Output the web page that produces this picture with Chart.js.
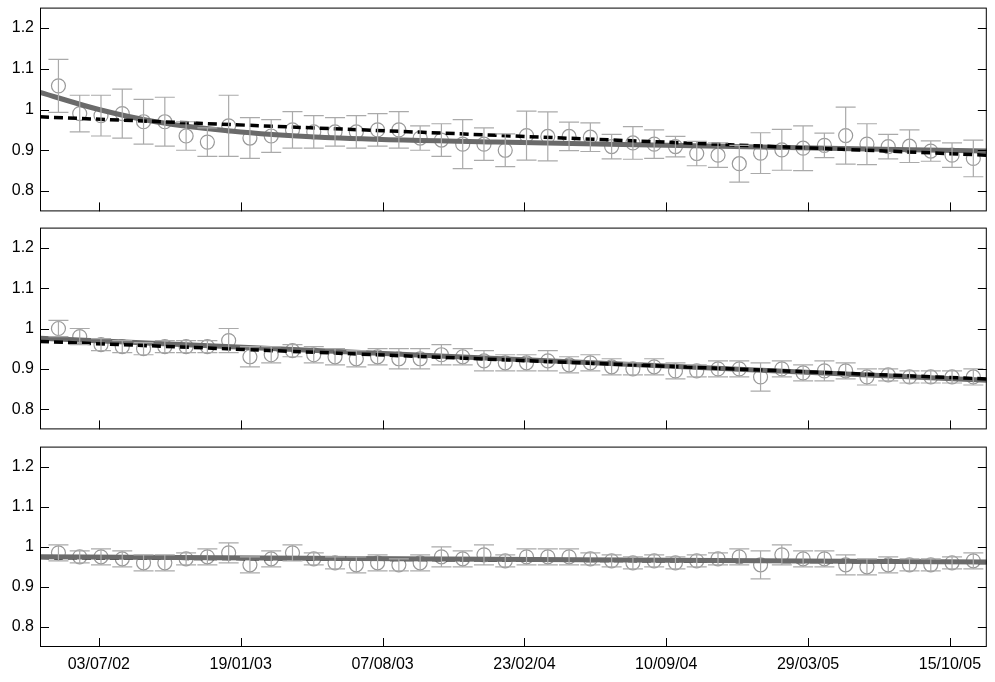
<!DOCTYPE html>
<html>
<head>
<meta charset="utf-8">
<script src="https://cdn.jsdelivr.net/npm/chart.js@4/dist/chart.umd.min.js"></script>
<style>
  body { margin: 0; background: #fff; overflow: hidden; }
  canvas { position: absolute; left: 0; }
</style>
</head>
<body>
<canvas id="p1" width="995" height="235" style="top:-8px"></canvas>
<canvas id="p2" width="995" height="233" style="top:212px"></canvas>
<canvas id="p3" width="995" height="251" style="top:431px"></canvas>
<script>
/* =========================
   DATA (x = days after 03/07/02)
========================= */
const baseDate = Date.UTC(2002, 6, 3);
const xTicks = [0, 200, 400, 600, 800, 1000, 1200];
const yTicks = [0.8, 0.9, 1.0, 1.1, 1.2];
const sampleDays = [-57, -27, 3, 33, 63, 93, 123, 153, 183, 213, 243, 273, 303, 333, 363, 393,
  423, 453, 483, 513, 543, 573, 603, 633, 663, 693, 723, 753, 783, 813, 843, 873, 903, 933,
  963, 993, 1023, 1053, 1083, 1113, 1143, 1173, 1203, 1233];

const top1 = [1.058, 0.99, 0.985, 0.99, 0.97, 0.97, 0.935, 0.92, 0.96, 0.93, 0.935, 0.95, 0.945,
  0.945, 0.945, 0.95, 0.95, 0.93, 0.925, 0.915, 0.915, 0.90, 0.936, 0.934, 0.934, 0.932, 0.909,
  0.918, 0.915, 0.909, 0.892, 0.888, 0.867, 0.893, 0.901, 0.905, 0.912, 0.936, 0.915, 0.909,
  0.91, 0.898, 0.888, 0.88];
const err1 = [0.065, 0.045, 0.05, 0.06, 0.055, 0.06, 0.035, 0.035, 0.075, 0.05, 0.04, 0.045, 0.04,
  0.035, 0.04, 0.04, 0.045, 0.03, 0.04, 0.06, 0.04, 0.04, 0.06, 0.06, 0.035, 0.035, 0.03, 0.04,
  0.035, 0.025, 0.03, 0.03, 0.045, 0.05, 0.05, 0.055, 0.03, 0.07, 0.05, 0.03, 0.04, 0.025, 0.03, 0.045];
const fitSolid1Days = [-83, 0, 80, 200, 340, 560, 800, 1252];
const fitSolid1 = [1.042, 1.0, 0.97, 0.945, 0.93, 0.92, 0.912, 0.898];
const fitDashed1Days = [-83, 1252];
const fitDashed1 = [0.982, 0.888];

const mid2 = [1.0, 0.98, 0.96, 0.955, 0.95, 0.955, 0.955, 0.955, 0.97, 0.93, 0.935, 0.945, 0.935,
  0.93, 0.925, 0.93, 0.925, 0.925, 0.935, 0.93, 0.92, 0.915, 0.915, 0.92, 0.91, 0.915, 0.905, 0.9,
  0.905, 0.895, 0.895, 0.9, 0.9, 0.88, 0.9, 0.89, 0.895, 0.895, 0.88, 0.885, 0.88, 0.88, 0.88, 0.88];
const err2 = [0.02, 0.02, 0.015, 0.015, 0.015, 0.015, 0.015, 0.015, 0.03, 0.025, 0.02, 0.015, 0.02,
  0.02, 0.02, 0.02, 0.025, 0.025, 0.025, 0.02, 0.025, 0.02, 0.02, 0.025, 0.02, 0.02, 0.02, 0.015,
  0.02, 0.02, 0.015, 0.02, 0.02, 0.035, 0.02, 0.02, 0.025, 0.02, 0.02, 0.015, 0.015, 0.015, 0.015, 0.02];
const fitSolid2Days = [-83, 1252];
const fitSolid2 = [0.976, 0.872];
const fitDashed2Days = [-83, 1252];
const fitDashed2 = [0.968, 0.875];

const bot3 = [0.985, 0.975, 0.975, 0.97, 0.96, 0.96, 0.97, 0.975, 0.985, 0.955, 0.97, 0.985, 0.97,
  0.96, 0.955, 0.96, 0.955, 0.96, 0.975, 0.97, 0.98, 0.965, 0.975, 0.975, 0.975, 0.97, 0.965, 0.96,
  0.965, 0.96, 0.965, 0.97, 0.975, 0.955, 0.98, 0.97, 0.97, 0.955, 0.95, 0.955, 0.955, 0.955, 0.96, 0.965];
const err3 = [0.02, 0.015, 0.02, 0.02, 0.02, 0.02, 0.015, 0.02, 0.025, 0.02, 0.02, 0.02, 0.015,
  0.015, 0.02, 0.02, 0.015, 0.02, 0.025, 0.02, 0.025, 0.015, 0.02, 0.02, 0.02, 0.015, 0.015, 0.015,
  0.015, 0.015, 0.015, 0.015, 0.02, 0.035, 0.025, 0.02, 0.02, 0.025, 0.02, 0.02, 0.015, 0.015, 0.015, 0.02];
const fitSolid3Days = [-83, 1252];
const fitSolid3 = [0.975, 0.962];
const fitDashed3Days = [-83, 1252];
const fitDashed3 = [0.973, 0.961];

/* =========================
   HELPERS
========================= */
function pairs(xs, ys) { return xs.map((x, i) => ({ x: x, y: ys[i] })); }

function fmtDate(days) {
  const d = new Date(baseDate + days * 86400000);
  const p = n => String(n).padStart(2, '0');
  return p(d.getUTCDate()) + '/' + p(d.getUTCMonth() + 1) + '/' + p(d.getUTCFullYear() % 100);
}

// error bars, frame and inward tick marks
const decor = {
  id: 'decor',
  afterDatasetsDraw(chart) {
    const { ctx, chartArea: a, scales: { x, y } } = chart;
    const errs = chart.options.plugins.decor.errs;
    const pts = chart.data.datasets[0].data;
    ctx.save();
    ctx.strokeStyle = '#aaaaaa';
    ctx.lineWidth = 1.2;
    pts.forEach((p, i) => {
      const px = x.getPixelForValue(p.x);
      const y1 = y.getPixelForValue(p.y + errs[i]);
      const y2 = y.getPixelForValue(p.y - errs[i]);
      ctx.beginPath();
      ctx.moveTo(px, y1); ctx.lineTo(px, y2);
      ctx.moveTo(px - 10, y1); ctx.lineTo(px + 10, y1);
      ctx.moveTo(px - 10, y2); ctx.lineTo(px + 10, y2);
      ctx.stroke();
    });
    ctx.strokeStyle = '#000';
    ctx.lineWidth = 1;
    ctx.strokeRect(a.left + 0.5, a.top + 0.5, a.right - a.left - 1, a.bottom - a.top - 1);
    ctx.beginPath();
    yTicks.forEach(v => {
      const py = Math.round(y.getPixelForValue(v)) + 0.5;
      ctx.moveTo(a.left, py); ctx.lineTo(a.left + 9, py);
      ctx.moveTo(a.right, py); ctx.lineTo(a.right - 9, py);
    });
    xTicks.forEach(v => {
      const px = Math.round(x.getPixelForValue(v)) + 0.5;
      ctx.moveTo(px, a.bottom); ctx.lineTo(px, a.bottom - 9);
    });
    ctx.stroke();
    ctx.restore();
  }
};

function makePanel(id, vals, errs, sDays, solid, dDays, dashed, showX, solidOnTop) {
  new Chart(document.getElementById(id), {
    type: 'scatter',
    data: {
      datasets: [
        { data: pairs(sampleDays, vals), pointStyle: 'circle', pointRadius: 7,
          borderColor: '#999999', backgroundColor: 'rgba(0,0,0,0)', borderWidth: 1.2, order: 3 },
        { type: 'line', data: pairs(sDays, solid), borderColor: '#6a6a6a', borderWidth: 5,
          pointRadius: 0, cubicInterpolationMode: 'monotone', order: solidOnTop ? 1 : 2 },
        { type: 'line', data: pairs(dDays, dashed), borderColor: '#000000', borderWidth: 3.5,
          borderDash: [9, 5], pointRadius: 0, order: solidOnTop ? 2 : 1 }
      ]
    },
    options: {
      responsive: false, animation: false,
      layout: { padding: { top: 0, bottom: 0, left: 0, right: 7 } },
      plugins: { legend: { display: false }, tooltip: { enabled: false }, decor: { errs: errs } },
      scales: {
        x: {
          type: 'linear', min: -83, max: 1252, display: showX,
          afterBuildTicks: s => { s.ticks = xTicks.map(v => ({ value: v })); },
          afterFit: s => { if (showX) s.height = 35; },
          grid: { display: false, drawTicks: false }, border: { display: false },
          ticks: { callback: v => fmtDate(v), color: '#000', padding: 8, maxRotation: 0,
            font: { family: 'Liberation Sans', size: 16 } }
        },
        y: {
          min: 0.75, max: 1.25,
          afterBuildTicks: s => { s.ticks = yTicks.map(v => ({ value: v })); },
          afterFit: s => { s.width = 40; },
          grid: { display: false, drawTicks: false }, border: { display: false },
          ticks: { callback: v => String(Math.round(v * 10) / 10), color: '#000', padding: 6,
            font: { family: 'Liberation Sans', size: 16 } }
        }
      }
    },
    plugins: [decor]
  });
}

makePanel('p1', top1, err1, fitSolid1Days, fitSolid1, fitDashed1Days, fitDashed1, false, false);
makePanel('p2', mid2, err2, fitSolid2Days, fitSolid2, fitDashed2Days, fitDashed2, false, false);
makePanel('p3', bot3, err3, fitSolid3Days, fitSolid3, fitDashed3Days, fitDashed3, true, true);
</script>
</body>
</html>
